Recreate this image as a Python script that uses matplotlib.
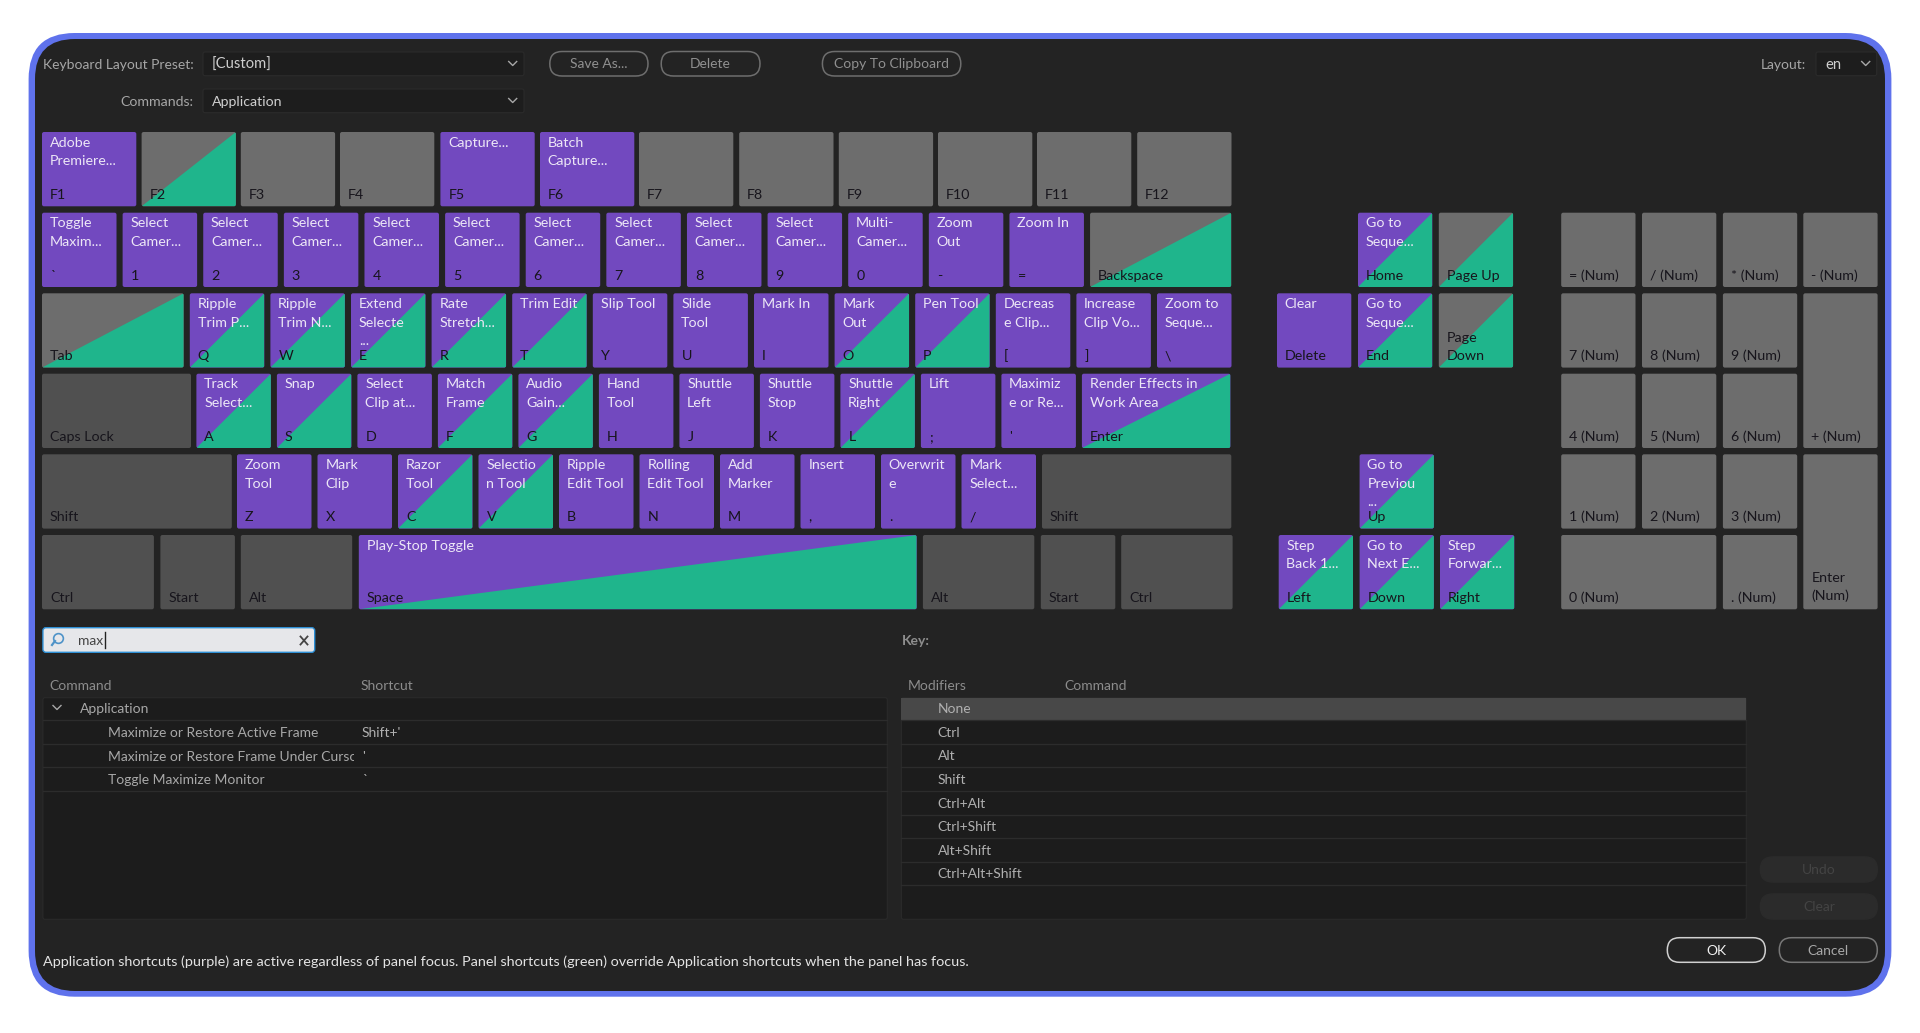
"""Keyboard shortcuts dialog, drawn in pixel coordinates."""

import matplotlib

matplotlib.use("Agg")
import matplotlib.pyplot as plt
from matplotlib.patches import FancyBboxPatch, Polygon, Rectangle

W, H = 1920, 1033

# ---- key data ---------------------------------------------------------
FN_KEYS = ["F1", "F2", "F3", "F4", "F5", "F6", "F7", "F8", "F9", "F10", "F11", "F12"]
FN_COMMANDS = ["Adobe\nPremiere...", "", "", "", "Capture...", "Batch\nCapture...", "", "", "", "", "", ""]
FN_STATES = ["a", "p", "", "", "a", "a", "", "", "", "", "", ""]

NUM_KEYS = ["`", "1", "2", "3", "4", "5", "6", "7", "8", "9", "0", "-", "=", "Backspace"]
NUM_COMMANDS = ["Toggle\nMaxim..."] + ["Select\nCamer..."] * 9 + ["Multi-\nCamer...", "Zoom\nOut", "Zoom In", ""]
NUM_STATES = ["a"] * 13 + ["p"]

TAB_KEYS = ["Tab", "Q", "W", "E", "R", "T", "Y", "U", "I", "O", "P", "[", "]", "\\"]
TAB_COMMANDS = ["", "Ripple\nTrim P...", "Ripple\nTrim N...", "Extend\nSelecte\n...", "Rate\nStretch...",
                "Trim Edit", "Slip Tool", "Slide\nTool", "Mark In", "Mark\nOut", "Pen Tool",
                "Decreas\ne Clip...", "Increase\nClip Vo...", "Zoom to\nSeque..."]
TAB_STATES = ["p", "ap", "ap", "ap", "ap", "ap", "a", "a", "a", "ap", "ap", "a", "a", "a"]

CAPS_KEYS = ["Caps Lock", "A", "S", "D", "F", "G", "H", "J", "K", "L", ";", "'", "Enter"]
CAPS_COMMANDS = ["", "Track\nSelect...", "Snap", "Select\nClip at...", "Match\nFrame", "Audio\nGain...",
                 "Hand\nTool", "Shuttle\nLeft", "Shuttle\nStop", "Shuttle\nRight", "Lift",
                 "Maximiz\ne or Re...", "Render Effects in\nWork Area"]
CAPS_STATES = ["m", "ap", "ap", "a", "ap", "ap", "a", "a", "a", "ap", "a", "a", "ap"]

SHIFT_KEYS = ["Shift", "Z", "X", "C", "V", "B", "N", "M", ",", ".", "/", "Shift"]
SHIFT_COMMANDS = ["", "Zoom\nTool", "Mark\nClip", "Razor\nTool", "Selectio\nn Tool", "Ripple\nEdit Tool",
                  "Rolling\nEdit Tool", "Add\nMarker", "Insert", "Overwrit\ne", "Mark\nSelect...", ""]
SHIFT_STATES = ["m", "a", "a", "ap", "ap", "a", "a", "a", "a", "a", "a", "m"]

CTRL_KEYS = ["Ctrl", "Start", "Alt", "Space", "Alt", "Start", "Ctrl"]
CTRL_COMMANDS = ["", "", "", "Play-Stop Toggle", "", "", ""]
CTRL_STATES = ["m", "m", "m", "ap", "m", "m", "m"]

NAV_KEYS = ["Home", "Page Up", "Delete", "End", "Page\nDown", "Up", "Left", "Down", "Right"]
NAV_COMMANDS = ["Go to\nSeque...", "", "Clear", "Go to\nSeque...", "", "Go to\nPreviou\n...",
                "Step\nBack 1...", "Go to\nNext E...", "Step\nForwar..."]
NAV_STATES = ["ap", "p", "a", "ap", "p", "ap", "ap", "ap", "ap"]

PAD_KEYS = ["= (Num)", "/ (Num)", "* (Num)", "- (Num)", "7 (Num)", "8 (Num)", "9 (Num)", "+ (Num)",
            "4 (Num)", "5 (Num)", "6 (Num)", "1 (Num)", "2 (Num)", "3 (Num)", "Enter\n(Num)", "0 (Num)", ". (Num)"]

SEARCH_ROWS = ["Maximize or Restore Active Frame", "Maximize or Restore Frame Under Cursor", "Toggle Maximize Monitor"]
SEARCH_SHORTCUTS = ["Shift+'", "'", "`"]
MODIFIERS = ["None", "Ctrl", "Alt", "Shift", "Ctrl+Alt", "Ctrl+Shift", "Alt+Shift", "Ctrl+Alt+Shift"]
HELP_TEXT = ("Application shortcuts (purple) are active regardless of panel focus. "
             "Panel shortcuts (green) override Application shortcuts when the panel has focus.")

# ---- layout -----------------------------------------------------------
ROW_TOP = [132, 212.7, 293.3, 373.7, 454.3, 535]
KEY_H = 74.3
KEY_W = 74.5
WIDE_F = 94.3

FN_LEFT = [42, 141.6, 240.8, 340, 440.4, 540, 639, 739.2, 838.8, 938, 1037, 1137.2]
NUM_LEFT = [42 + 80.62 * i for i in range(14)]
TAB_LEFT = [42] + [189.8 + 80.6 * i for i in range(13)]
CAPS_LEFT = [42] + [196.4 + 80.5 * i for i in range(12)]
SHIFT_LEFT = [42] + [237 + 80.5 * i for i in range(11)]
CTRL_LEFT = [42, 160.4, 240.8, 358.8, 922.9, 1040.8, 1121.2]
TAB_W = [141.7] + [KEY_W] * 13
NUM_W = [KEY_W] * 13 + [141.2]
CAPS_W = [149] + [KEY_W] * 11 + [148.5]
SHIFT_W = [189.8] + [KEY_W] * 10 + [189.3]
CTRL_W = [111.9, KEY_W, 111.4, 557.9, 111.4, KEY_W, 111.4]

NAV_LEFT = [1358, 1438.8, 1277, 1358, 1438.8, 1359.6, 1278.7, 1359.6, 1440]
NAV_ROW = [1, 1, 2, 2, 2, 4, 5, 5, 5]

PAD_LEFT = [1561.2, 1642, 1722.9, 1803.3]
PAD_COL = [0, 1, 2, 3, 0, 1, 2, 3, 0, 1, 2, 0, 1, 2, 3, 0, 2]
PAD_ROW = [1, 1, 1, 1, 2, 2, 2, 2, 3, 3, 3, 4, 4, 4, 4, 5, 5]
PAD_SPAN_Y = [1, 1, 1, 1, 1, 1, 1, 2, 1, 1, 1, 1, 1, 1, 2, 1, 1]
PAD_SPAN_X = [1, 1, 1, 1, 1, 1, 1, 1, 1, 1, 1, 1, 1, 1, 1, 2, 1]

# ---- colours ----------------------------------------------------------
FRAME = "#5F72EC"
BG = "#232323"
PURPLE = "#7249BF"
GREEN = "#1FB58C"
GREY = "#6D6D6D"
GREY_DARK = "#505050"
PANEL = "#1C1C1C"

plt.rcParams["font.family"] = ["Lato", "DejaVu Sans"]

fig = plt.figure(figsize=(W / 100, H / 100), dpi=100, facecolor="white")
ax = fig.add_axes([0, 0, 1, 1])
ax.set_xlim(0, W)
ax.set_ylim(H, 0)
ax.axis("off")


def rounded(x0, y0, x1, y1, radius=2.0, fc="none", ec="none", lw=0.0, zorder=2):
    patch = FancyBboxPatch((x0, y0), x1 - x0, y1 - y0, boxstyle=f"round,pad=0,rounding_size={radius}",
                           fc=fc, ec=ec, lw=lw, zorder=zorder)
    ax.add_patch(patch)
    return patch


def label(x, y, s, color="#A6A6A6", size=10.0, ha="left", **kw):
    return ax.text(x, y, s, color=color, fontsize=size, ha=ha, va="baseline", zorder=6, **kw)


def draw_key(x, top, width, name, command, state, height=KEY_H):
    bottom = top + height
    if state in ("a", "ap"):
        base = PURPLE
    elif state == "m":
        base = GREY_DARK
    else:
        base = GREY
    body = rounded(x, top, x + width, bottom, fc=base, zorder=3)
    if state in ("p", "ap"):
        tri = Polygon([(x, bottom), (x + width, top), (x + width, bottom)], closed=True, fc=GREEN, ec="none", zorder=4)
        ax.add_patch(tri)
        tri.set_clip_path(body)
    # command text runs down from the top, key name sits at the bottom
    for i, line in enumerate(command.split("\n") if command else []):
        label(x + 7.8, top + 14.7 + 18.7 * i, line, color="#ECE6F6", size=10.3)
    lines = name.split("\n")
    # the two-line Enter key on the pad sits a little higher
    last = bottom - (9.0 if name.startswith("Enter\n") else 7.3)
    for i, line in enumerate(lines):
        label(x + 8.0, last - 18.7 * (len(lines) - 1 - i), line, color="#17151C", size=10.3)


def chevron(x, y, size=4, color="#A8A8A8"):
    ax.plot([x - size, x, x + size], [y - 2, y + 2, y - 2], color=color, lw=1.0, zorder=6)


def pill(x0, x1, y0, y1, text, edge="#6E6E6E", color="#909090", fc="none", lw=1.1):
    rounded(x0, y0, x1, y1, radius=(y1 - y0) / 2, fc=fc, ec=edge, lw=lw, zorder=3)
    label((x0 + x1) / 2, (y0 + y1) / 2 + 4.7, text, color=color, ha="center")


# ---- frame ------------------------------------------------------------
rounded(28.6, 33, 1891.4, 996.7, radius=46, fc=FRAME, zorder=0)
rounded(35, 39, 1885, 991, radius=40, fc=BG, zorder=1)

# ---- top controls -----------------------------------------------------
label(194, 68.7, "Keyboard Layout Preset:", ha="right", size=10.0)
rounded(203, 52, 524, 75.7, fc="#1D1D1D", ec="#2B2B2B", lw=0.8)
label(212, 68.7, "[Custom]", color="#CFCFCF", size=10.6)
chevron(512.7, 63.5)
label(193, 105.7, "Commands:", ha="right", size=10.2)
rounded(203, 89, 524, 112.7, fc="#1D1D1D", ec="#2B2B2B", lw=0.8)
label(212, 105.7, "Application", color="#CFCFCF", size=10.2)
chevron(512.7, 100.5)
pill(549.8, 648, 51.5, 76, "Save As...")
pill(661.2, 760, 51.5, 76, "Delete")
pill(822.4, 960.8, 51.5, 76, "Copy To Clipboard")
label(1806.5, 68.7, "Layout:", ha="right")
rounded(1816, 52, 1876.7, 75.7, fc="#1D1D1D", ec="#2B2B2B", lw=0.8)
label(1825.3, 68.7, "en", color="#CFCFCF", size=10.6)
chevron(1865.7, 63.5)

# ---- main keyboard ----------------------------------------------------
for x, name, command, state in zip(FN_LEFT, FN_KEYS, FN_COMMANDS, FN_STATES, strict=True):
    draw_key(x, ROW_TOP[0], WIDE_F, name, command, state)

main_rows = [
    (1, NUM_LEFT, NUM_W, NUM_KEYS, NUM_COMMANDS, NUM_STATES),
    (2, TAB_LEFT, TAB_W, TAB_KEYS, TAB_COMMANDS, TAB_STATES),
    (3, CAPS_LEFT, CAPS_W, CAPS_KEYS, CAPS_COMMANDS, CAPS_STATES),
    (4, SHIFT_LEFT, SHIFT_W, SHIFT_KEYS, SHIFT_COMMANDS, SHIFT_STATES),
    (5, CTRL_LEFT, CTRL_W, CTRL_KEYS, CTRL_COMMANDS, CTRL_STATES),
]
for row, lefts, widths, names, commands, states in main_rows:
    for x, width, name, command, state in zip(lefts, widths, names, commands, states, strict=True):
        draw_key(x, ROW_TOP[row], width, name, command, state)

# ---- nav cluster and number pad ---------------------------------------
for x, row, name, command, state in zip(NAV_LEFT, NAV_ROW, NAV_KEYS, NAV_COMMANDS, NAV_STATES, strict=True):
    draw_key(x, ROW_TOP[row], 74.3, name, command, state)

for name, col, row, sx, sy in zip(PAD_KEYS, PAD_COL, PAD_ROW, PAD_SPAN_X, PAD_SPAN_Y, strict=True):
    width = PAD_LEFT[col + sx - 1] + 74.3 - PAD_LEFT[col]
    height = ROW_TOP[row + sy - 1] + KEY_H - ROW_TOP[row]
    draw_key(PAD_LEFT[col], ROW_TOP[row], width, name, "", "", height=height)

# ---- search box -------------------------------------------------------
rounded(42.9, 627.7, 314.7, 652.3, radius=3, fc="#E6E7EA", ec="#2D8FD5", lw=1.0)
ax.plot([57.5], [638], marker="o", ms=7, mfc="none", mec="#4E93C8", mew=1.2, zorder=6)
ax.plot([52, 55], [645, 641], color="#4E93C8", lw=1.6, zorder=6)
label(78.4, 644.7, "max", color="#444444")
ax.plot([105.3, 105.3], [632, 648], color="#222222", lw=1.0, zorder=6)
ax.plot([300.5, 307.5], [636.5, 644.5], color="#444444", lw=1.3, zorder=6)
ax.plot([300.5, 307.5], [644.5, 636.5], color="#444444", lw=1.3, zorder=6)
label(902, 644.7, "Key:", color="#8E8E8E", fontweight="bold")

# ---- tables -----------------------------------------------------------
label(49.8, 689.7, "Command", color="#8C8C8C")
label(360.8, 689.7, "Shortcut", color="#8C8C8C")
label(908, 689.7, "Modifiers", color="#8C8C8C")
label(1064.5, 689.7, "Command", color="#8C8C8C")

rounded(42.9, 697.7, 887.3, 919.3, radius=2, fc=PANEL, ec="#2A2A2A", lw=0.8)
rounded(901.4, 697.7, 1746.3, 919.3, radius=2, fc=PANEL, ec="#2A2A2A", lw=0.8)
ax.add_patch(Rectangle((901.4, 697.7), 844.9, 22.6, fc="#484848", ec="none", zorder=3))

ROW_STEP = 23.55
for i in range(4):
    y = 720.3 + ROW_STEP * i
    ax.plot([42.9, 887.3], [y, y], color="#2C2C2C", lw=0.9, zorder=4)
for i in range(8):
    y = 720.3 + ROW_STEP * i
    ax.plot([901.4, 1746.3], [y, y], color="#2C2C2C", lw=0.9, zorder=4)

chevron(57, 707.5)
label(79.6, 713.4, "Application", color="#A8A8A8")
clip = Rectangle((100, 720), 254, 72, transform=ax.transData)
for i, (command, shortcut) in enumerate(zip(SEARCH_ROWS, SEARCH_SHORTCUTS, strict=True)):
    base = 737 + ROW_STEP * i
    txt = label(108.4, base, command, color="#A8A8A8")
    # long command names get cut at the column edge
    txt.set_clip_on(True)
    txt.set_clip_path(clip)
    label(362, base, shortcut, color="#B0B0B0")
for i, mod in enumerate(MODIFIERS):
    label(937.5, 713.4 + ROW_STEP * i, mod, color="#B0B0B0")

# ---- bottom ------------------------------------------------------------
pill(1760.4, 1877.3, 857, 882, "Undo", edge="#2B2B2B", color="#444444", fc="#2B2B2B")
pill(1760.4, 1877.3, 894, 919, "Clear", edge="#2B2B2B", color="#444444", fc="#2B2B2B")
pill(1667.3, 1765.3, 937.7, 962.3, "OK", edge="#D0D0D0", color="#F0F0F0")
pill(1779.3, 1877.3, 937.7, 962.3, "Cancel", edge="#777777", color="#A8A8A8")
label(43, 966.4, HELP_TEXT, color="#E4E4E4", size=10.4)

fig.savefig("out.png", dpi=100, facecolor="white")
